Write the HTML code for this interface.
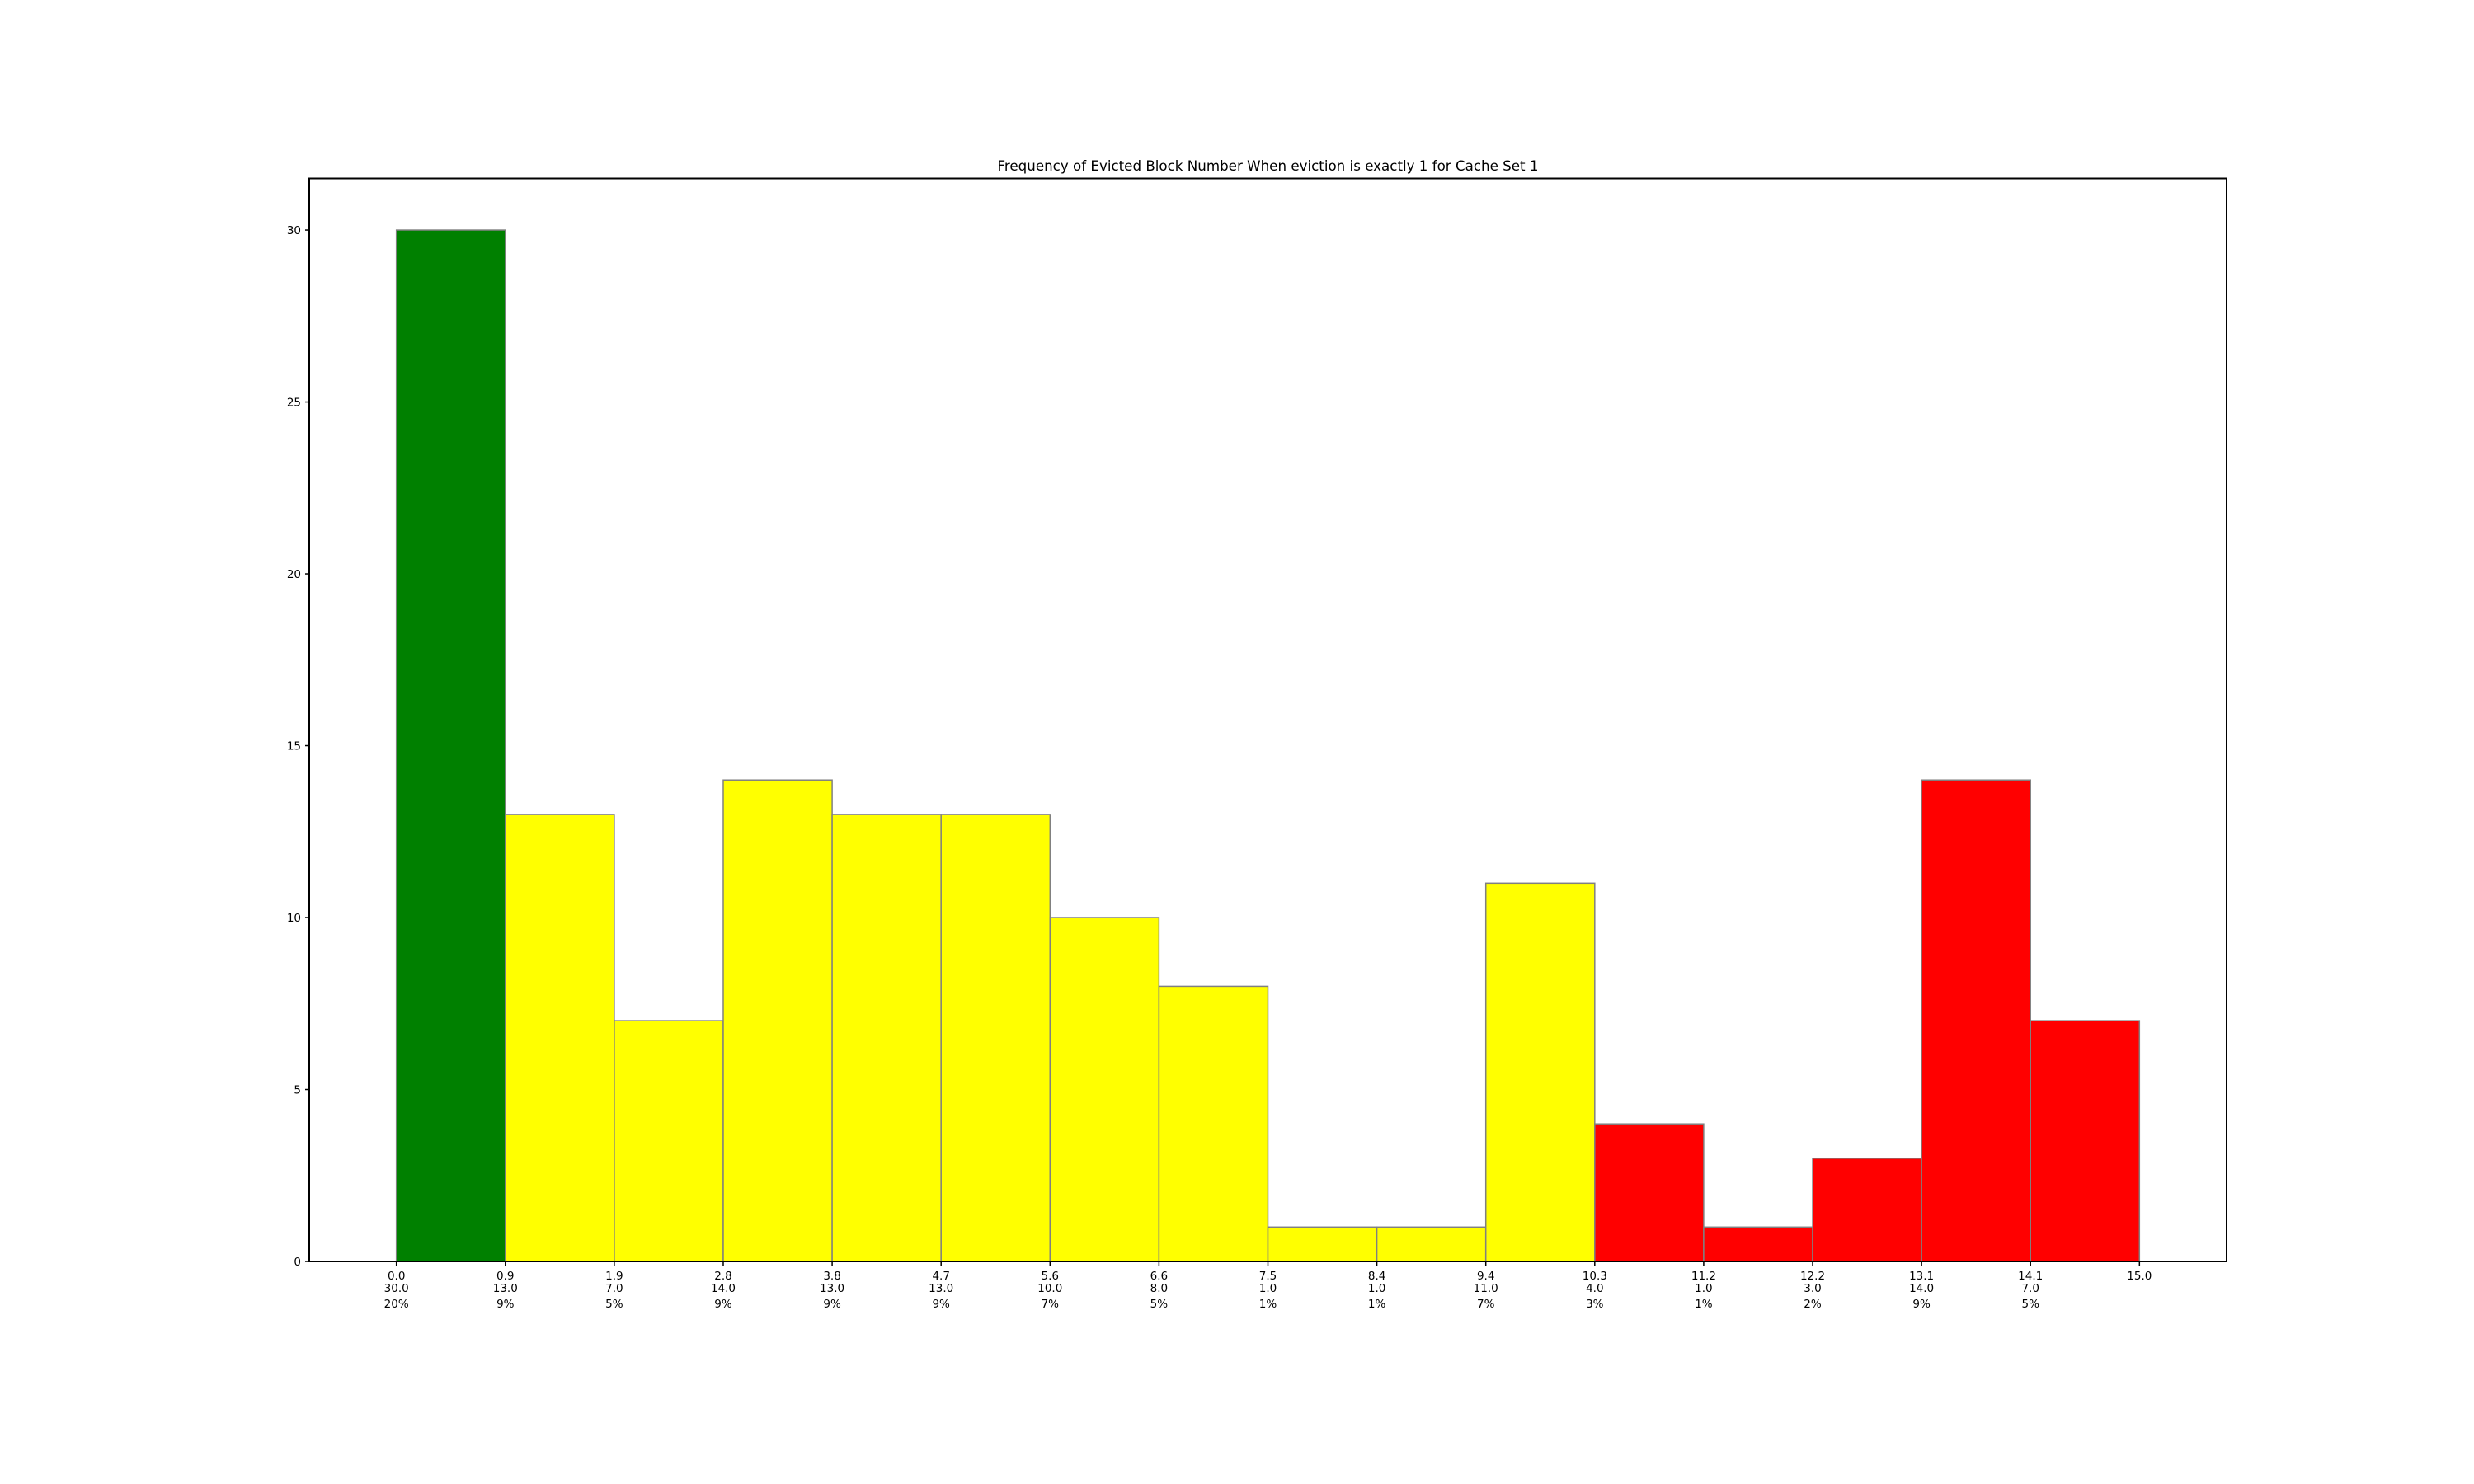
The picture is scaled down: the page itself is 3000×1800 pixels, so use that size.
<!DOCTYPE html>
<html><head><meta charset="utf-8"><style>
html,body{margin:0;padding:0;background:#fff;}
svg{display:block;font-family:"DejaVu Sans","Liberation Sans",sans-serif;}
</style></head><body>
<svg id="chart" width="3000" height="1800" viewBox="0 0 3000 1800" xmlns="http://www.w3.org/2000/svg">
<rect width="3000" height="1800" fill="#fff"/>
<text x="1537.5" y="207" text-anchor="middle" font-size="16.5" textLength="656" lengthAdjust="spacingAndGlyphs">Frequency of Evicted Block Number When eviction is exactly 1 for Cache Set 1</text>
<g id="bars"></g>
<g id="xticks"></g>
<g id="yticks"></g>
<rect x="375" y="216.5" width="2325" height="1313.5" fill="none" stroke="#000" stroke-width="2"/>
</svg>
<script>
const counts = [30,13,7,14,13,13,10,8,1,1,11,4,1,3,14,7];
const edgeLabels = ["0.0","0.9","1.9","2.8","3.8","4.7","5.6","6.6","7.5","8.4","9.4","10.3","11.2","12.2","13.1","14.1","15.0"];
const countLabels = ["30.0","13.0","7.0","14.0","13.0","13.0","10.0","8.0","1.0","1.0","11.0","4.0","1.0","3.0","14.0","7.0"];
const pctLabels = ["20%","9%","5%","9%","9%","9%","7%","5%","1%","1%","7%","3%","1%","2%","9%","5%"];
const yTicks = [0,5,10,15,20,25,30];
const colors = ["#008000","#ffff00","#ffff00","#ffff00","#ffff00","#ffff00","#ffff00","#ffff00","#ffff00","#ffff00","#ffff00","#ff0000","#ff0000","#ff0000","#ff0000","#ff0000"];
const NS="http://www.w3.org/2000/svg";
const xMin=0, xMax=15, yMax=31.5;
const L=375,R=2700,T=216.5,B=1530;
const span=xMax-xMin, pad=span*0.05;
function xs(v){return L+(v-(xMin-pad))/(span+2*pad)*(R-L);}
function ys(v){return B-v/yMax*(B-T);}
function mk(tag,attrs,parent){const e=document.createElementNS(NS,tag);for(const k in attrs)e.setAttribute(k,attrs[k]);parent.appendChild(e);return e;}
const bars=document.getElementById('bars'),xt=document.getElementById('xticks'),yt=document.getElementById('yticks');
const n=counts.length, w=span/n;
counts.forEach((c,i)=>{
  const x0=xs(xMin+i*w), x1=xs(xMin+(i+1)*w);
  const r=mk('rect',{x:x0,y:ys(c),width:x1-x0,height:ys(0)-ys(c),fill:colors[i],stroke:'#808080','stroke-width':1.5},bars);
  
  
});
edgeLabels.forEach((lab,i)=>{
  const x=xs(xMin+i*w);
  const g=mk('g',{},xt);
  
  
  mk('line',{x1:x,x2:x,y1:B,y2:B+5,stroke:'#000','stroke-width':1.5},g);
  let t=mk('text',{x:x,y:1552,'text-anchor':'middle','font-size':13.5},g);t.textContent=lab;
  if(i<n){
    t=mk('text',{x:x,y:1567,'text-anchor':'middle','font-size':13.5},g);t.textContent=countLabels[i];
    t=mk('text',{x:x,y:1586,'text-anchor':'middle','font-size':13.5},g);t.textContent=pctLabels[i];
  }
});
yTicks.forEach(v=>{
  const y=ys(v);
  const g=mk('g',{},yt);
  
  
  mk('line',{x1:L-5,x2:L,y1:y,y2:y,stroke:'#000','stroke-width':1.5},g);
  const t=mk('text',{x:L-10,y:y+5,'text-anchor':'end','font-size':13.5},g);t.textContent=v;
});
</script>
</body></html>
